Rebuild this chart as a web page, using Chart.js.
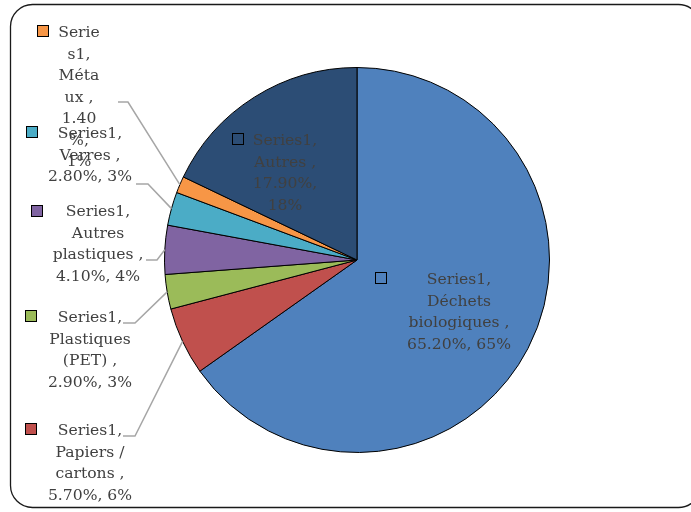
<!DOCTYPE html>
<html>
<head>
<meta charset="utf-8">
<script src="https://cdn.jsdelivr.net/npm/chart.js@4.4.0/dist/chart.umd.min.js"></script>
<style>
  html, body { margin: 0; padding: 0; background: #fff; }
  #wrap { width: 691px; height: 512px; }
</style>
</head>
<body>
<div id="wrap"><canvas id="pie" width="691" height="512"></canvas></div>
<script>
// data
const categories = ['Déchets biologiques', 'Papiers / cartons', 'Plastiques (PET)', 'Autres plastiques', 'Verres', 'Métaux', 'Autres'];
const values = [65.2, 5.7, 2.9, 4.1, 2.8, 1.4, 17.9];
const colors = ['#4F81BD', '#C0504D', '#9BBB59', '#8064A2', '#4BACC6', '#F79646', '#2C4D75'];
const labelLines = [
  ['Series1,', 'Déchets', 'biologiques ,', '65.20%, 65%'],
  ['Series1,', 'Papiers /', 'cartons ,', '5.70%, 6%'],
  ['Series1,', 'Plastiques', '(PET) ,', '2.90%, 3%'],
  ['Series1,', 'Autres', 'plastiques ,', '4.10%, 4%'],
  ['Series1,', 'Verres ,', '2.80%, 3%'],
  ['Serie', 's1,', 'Méta', 'ux ,', '1.40', '%,', '1%'],
  ['Series1,', 'Autres ,', '17.90%,', '18%'],
];

// where each label box sits (marker, text centre, first line, optional leader elbow)
const labelPlaces = [
  { mx: 381, my: 278, cx: 459, y0: 280 },
  { mx: 31, my: 429, cx: 90, y0: 431, elbow: [[123, 436], [135, 436]] },
  { mx: 31, my: 316, cx: 90, y0: 318, elbow: [[123, 323], [135, 323]] },
  { mx: 37, my: 211, cx: 98, y0: 212, elbow: [[146, 260], [157, 260]] },
  { mx: 32, my: 132, cx: 90, y0: 134, elbow: [[136, 184], [148, 184]] },
  { mx: 43, my: 31, cx: 79, y0: 33, elbow: [[118, 102], [128, 102]] },
  { mx: 238, my: 139, cx: 285, y0: 141 },
];

const framePlugin = {
  id: 'frame',
  beforeDraw(chart) {
    const ctx = chart.ctx;
    ctx.save();
    ctx.fillStyle = '#fff';
    ctx.fillRect(0, 0, chart.width, chart.height);
    ctx.strokeStyle = '#1a1a1a';
    ctx.lineWidth = 1.3;
    ctx.beginPath();
    ctx.roundRect(10.5, 4.5, 690, 503, 22);
    ctx.stroke();
    ctx.restore();
  }
};

const labelPlugin = {
  id: 'sliceLabels',
  afterDatasetsDraw(chart) {
    const ctx = chart.ctx;
    const meta = chart.getDatasetMeta(0);
    ctx.save();
    meta.data.forEach((arc, i) => {
      const p = labelPlaces[i];
      const { x, y, startAngle, endAngle, outerRadius } = arc.getProps(['x', 'y', 'startAngle', 'endAngle', 'outerRadius'], true);
      if (p.elbow) {
        const mid = (startAngle + endAngle) / 2;
        const ex = x + Math.cos(mid) * outerRadius;
        const ey = y + Math.sin(mid) * outerRadius;
        ctx.strokeStyle = '#A6A6A6';
        ctx.lineWidth = 1.5;
        ctx.beginPath();
        ctx.moveTo(p.elbow[0][0], p.elbow[0][1]);
        ctx.lineTo(p.elbow[1][0], p.elbow[1][1]);
        ctx.lineTo(ex, ey);
        ctx.stroke();
      }
      // legend key
      ctx.fillStyle = colors[i];
      ctx.fillRect(p.mx - 5, p.my - 5, 10, 10);
      ctx.strokeStyle = '#000';
      ctx.lineWidth = 1;
      ctx.strokeRect(p.mx - 5.5, p.my - 5.5, 11, 11);
      // text
      ctx.fillStyle = '#404040';
      ctx.font = '15.6px "DejaVu Serif"';
      ctx.textAlign = 'center';
      ctx.textBaseline = 'middle';
      labelLines[i].forEach((t, k) => {
        ctx.fillText(t, p.cx, p.y0 + k * 21.5);
      });
    });
    ctx.restore();
  }
};

new Chart(document.getElementById('pie'), {
  type: 'pie',
  data: {
    labels: categories,
    datasets: [{
      data: values,
      backgroundColor: colors,
      borderColor: '#000',
      borderWidth: 1,
    }],
  },
  options: {
    responsive: false,
    animation: false,
    layout: { padding: { left: 164, right: 141, top: 67, bottom: 59 } },
    plugins: {
      legend: { display: false },
      tooltip: { enabled: false },
    },
  },
  plugins: [framePlugin, labelPlugin],
});
</script>
</body>
</html>
